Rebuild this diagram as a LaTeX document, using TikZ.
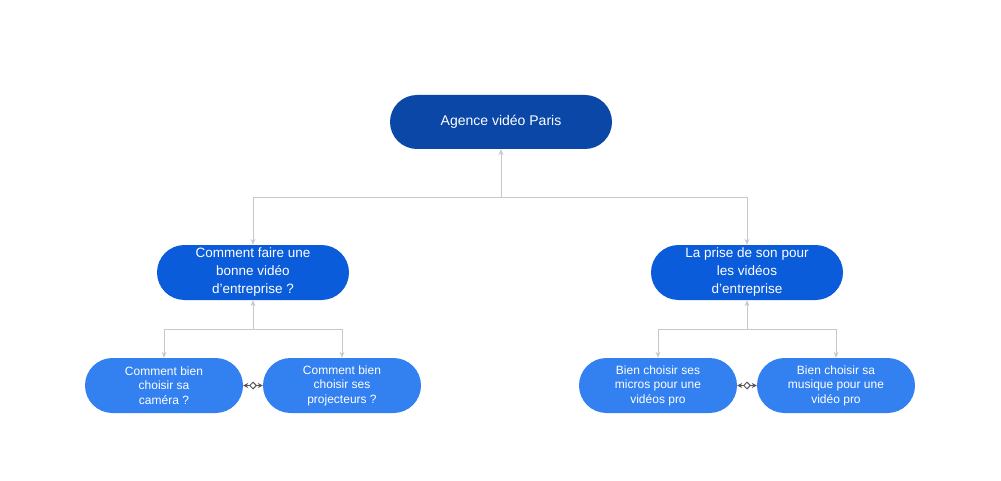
\documentclass[tikz,border=0pt]{standalone}
\usepackage{fontspec}
\setmainfont{Liberation Sans}
\usetikzlibrary{arrows.meta,shapes.geometric,shapes.misc,calc}
\definecolor{cA}{HTML}{0A47A6}
\definecolor{cB}{HTML}{0B5CDA}
\definecolor{cC}{HTML}{3380F0}
\definecolor{ln}{HTML}{C8C8C8}
\definecolor{dk}{HTML}{555555}
\tikzset{
  box/.style={rounded rectangle,draw=none,text=white,align=center,inner sep=0pt},
  lvA/.style={box,fill=cA,minimum width=222pt,minimum height=54pt,font=\fontsize{14}{17}\selectfont},
  lvB/.style={box,fill=cB,minimum width=192pt,minimum height=55pt,font=\fontsize{13.5}{18}\selectfont},
  lvC/.style={box,fill=cC,minimum width=158pt,minimum height=55pt,font=\fontsize{12}{14.5}\selectfont},
  conn/.style={draw=ln,line width=1pt,-{Stealth[length=6pt,width=5pt]}},
  sib/.style={draw=dk,line width=1pt,{Stealth[length=5pt,width=5pt]}-{Stealth[length=5pt,width=5pt]}}
}
\begin{document}
\begin{tikzpicture}[x=1pt,y=-1pt]
\useasboundingbox (0,0) rectangle (1001,481);
\node[lvA] (root) at (501,122) {Agence vidéo Paris};
\node[lvB] (l) at (253,272.5) {Comment faire une\\bonne vidéo\\d’entreprise ?};
\node[lvB] (r) at (747,272.5) {La prise de son pour\\les vidéos\\d’entreprise};
\node[lvC] (c1) at (164,385.5) {Comment bien\\choisir sa\\caméra ?};
\node[lvC] (c2) at (342,385.5) {Comment bien\\choisir ses\\projecteurs ?};
\node[lvC] (c3) at (658,385.5) {Bien choisir ses\\micros pour une\\vidéos pro};
\node[lvC] (c4) at (836,385.5) {Bien choisir sa\\musique pour une\\vidéo pro};
\coordinate (b0) at (501,198);
\coordinate (bl) at (253,329);
\coordinate (br) at (747,329);
\draw[conn] (b0) -- (root.south);
\draw[conn] (b0) -| (l.north);
\draw[conn] (b0) -| (r.north);
\draw[conn] (bl) -- (l.south);
\draw[conn] (bl) -| (c1.north);
\draw[conn] (bl) -| (c2.north);
\draw[conn] (br) -- (r.south);
\draw[conn] (br) -| (c3.north);
\draw[conn] (br) -| (c4.north);
\draw[sib] (c1.east) -- (c2.west);
\draw[sib] (c3.east) -- (c4.west);
\node[diamond,draw=dk,fill=white,line width=1pt,minimum size=7pt,inner sep=0pt] (d1) at ($(c1.east)!0.5!(c2.west)$) {};
\node[diamond,draw=dk,fill=white,line width=1pt,minimum size=7pt,inner sep=0pt] (d2) at ($(c3.east)!0.5!(c4.west)$) {};
\end{tikzpicture}
\end{document}
